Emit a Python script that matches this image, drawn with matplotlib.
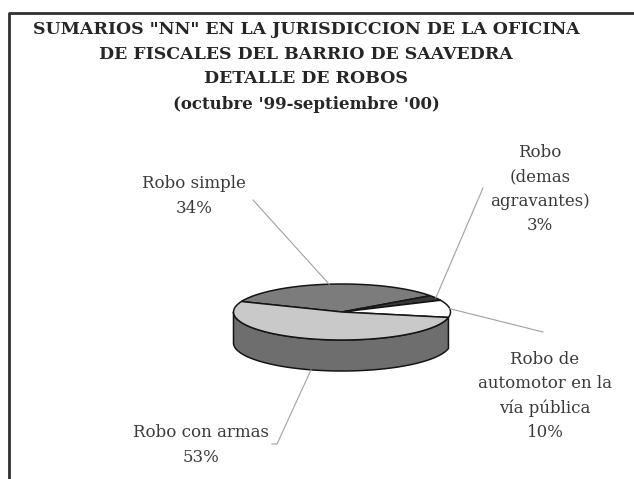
import numpy as np
import matplotlib.pyplot as plt
from matplotlib.patches import Polygon

# Robos por tipo, oct '99 - sep '00 (porcentaje)
categorias = ["Robo simple", "Robo\n(demas\nagravantes)", "Robo de\nautomotor en la\nvía pública", "Robo con armas"]
porcentajes = [34, 3, 10, 53]
color_tapa = ["#7c7c7c", "#383838", "#ffffff", "#c9c9c9"]
color_lado = ["#555555", "#262626", "#b0b0b0", "#6e6e6e"]

titulo = ['SUMARIOS "NN" EN LA JURISDICCION DE LA OFICINA',
          "DE FISCALES DEL BARRIO DE SAAVEDRA",
          "DETALLE DE ROBOS"]
subtitulo = "(octubre '99-septiembre '00)"

# geometry of the 3d pie, in pixels
CX, CY, RX, RY, PROF = 342, 312, 108.5, 28, 31
INICIO = 158

plt.rcParams["font.family"] = ["DejaVu Serif"]

fig = plt.figure(figsize=(6.34, 4.79), dpi=100)
ax = fig.add_axes([0, 0, 1, 1])
ax.set_xlim(0, 634)
ax.set_ylim(479, 0)
ax.axis("off")

# frame (only left and top edges are inside the image)
ax.plot([9, 9, 634], [479, 13, 13], color="#303030", lw=2, solid_capstyle="butt")

for linea, y in zip(titulo, [29, 54, 78.5]):
    ax.text(306, y, linea, ha="center", va="center",
            fontsize=12.5, fontweight="bold", color="#262626")
ax.text(306, 104, subtitulo, ha="center", va="center",
        fontsize=12, fontweight="bold", color="#262626")


def punto(t, abajo=0.0):
    t = np.radians(t)
    return CX + RX * np.cos(t), CY - RY * np.sin(t) + abajo


# slice angles, clockwise from INICIO
bordes = INICIO - np.concatenate([[0], np.cumsum(porcentajes)]) * 3.6
tramos = list(zip(bordes[:-1], bordes[1:]))

# side walls: only the front half (180..360 deg) is visible
for (a0, a1), lado in zip(tramos, color_lado):
    hi, lo = a0, a1
    while hi > 0:
        hi -= 360
        lo -= 360
    hi2, lo2 = min(hi, 0), max(lo, -180)
    if hi2 <= lo2:
        continue
    t = np.linspace(lo2, hi2, 80)
    x, y = punto(t)
    xb, yb = punto(t[::-1], PROF)
    ax.add_patch(Polygon(np.column_stack([np.r_[x, xb], np.r_[y, yb]]),
                         closed=True, fc=lado, ec="#151515", lw=1.1, zorder=2))

# top faces
for (a0, a1), tapa in zip(tramos, color_tapa):
    t = np.linspace(a0, a1, 120)
    x, y = punto(t)
    ax.add_patch(Polygon(np.column_stack([np.r_[CX, x], np.r_[CY, y]]),
                         closed=True, fc=tapa, ec="#151515", lw=1.1, zorder=3))

# labels and leader lines
pos_texto = [(194, 196), (540, 189), (545, 396), (201, 445)]
fin_guia = [(253, 200), (483, 188), (543, 332), (272, 444)]
medios = [(a0 + a1) / 2 for a0, a1 in tramos]
for k, (nombre, pct) in enumerate(zip(categorias, porcentajes)):
    ax.text(*pos_texto[k], f"{nombre}\n{pct}%", ha="center", va="center",
            fontsize=12, linespacing=1.55, color="#3a3a3a")
    ang = medios[k]
    frente = np.sin(np.radians(ang)) < -0.3
    px, py = punto(ang, PROF if frente else 0)
    gx, gy = fin_guia[k]
    if k == 3:
        ax.plot([px, gx + 5, gx], [py, gy, gy], color="#a0a0a0", lw=0.8, zorder=4)
    else:
        ax.plot([px, gx], [py, gy], color="#a0a0a0", lw=0.8, zorder=4)

fig.savefig("out.png", dpi=100)
